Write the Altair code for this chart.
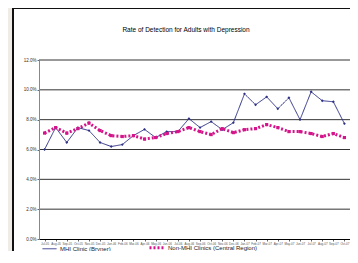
import altair as alt
import pandas as pd

months = ["Jul-05", "Aug-05", "Sep-05", "Oct-05", "Nov-05", "Dec-05",
          "Jan-06", "Feb-06", "Mar-06", "Apr-06", "May-06", "Jun-06",
          "Jul-06", "Aug-06", "Sep-06", "Oct-06", "Nov-06", "Dec-06",
          "Jan-07", "Feb-07", "Mar-07", "Apr-07", "May-07", "Jun-07",
          "Jul-07", "Aug-07", "Sep-07", "Oct-07"]
mhi = [6.0, 7.47, 6.47, 7.47, 7.27, 6.47, 6.2, 6.33, 6.93, 7.35, 6.8, 7.2, 7.2, 8.07,
       7.47, 7.87, 7.33, 7.8, 9.73, 9.0, 9.53, 8.73, 9.47, 8.0, 9.87, 9.27, 9.2, 7.73]
non_mhi = [7.1, 7.47, 7.1, 7.4, 7.77, 7.27, 6.93, 6.87, 6.93, 6.7, 6.8, 7.07, 7.2, 7.47,
           7.2, 7.0, 7.4, 7.13, 7.33, 7.4, 7.67, 7.47, 7.2, 7.2, 7.07, 6.87, 7.07, 6.8]
series_names = ["MHI Clinic (Bryner)", "Non-MHI Clinics (Central Region)"]
series_colors = ["#2e3186", "#d4148a"]
y_ticks = [0.0, 0.02, 0.04, 0.06, 0.08, 0.10, 0.12]
title_text = "Rate of Detection for Adults with Depression"

rows = []
for m, a, b in zip(months, mhi, non_mhi):
    rows.append({"month": m, "series": series_names[0], "rate": a / 100})
    rows.append({"month": m, "series": series_names[1], "rate": b / 100})
df = pd.DataFrame(rows)
grid_df = pd.DataFrame({"rate": y_ticks[1:]})

FONT = "Liberation Sans"

y_axis = alt.Axis(title=None, values=y_ticks, format=".1%", grid=False,
                  labelFontSize=4.5, labelColor="#333", labelFont=FONT,
                  domainColor="#888", ticks=True, tickSize=2, tickColor="#666",
                  labelPadding=1, zindex=2, labelOverlap=False)
y_scale = alt.Scale(domain=[0, 0.12], nice=False)

x_enc = alt.X("month:N", sort=months, scale=alt.Scale(padding=0.5),
              axis=alt.Axis(title=None, labelAngle=0, labelFontSize=3, labelColor="#555",
                            labelFont=FONT, domainColor="#000", domainWidth=1,
                            tickColor="#666", tickSize=2, labelPadding=1, zindex=2,
                            labelOverlap=False))
y_enc = alt.Y("rate:Q", scale=y_scale, axis=y_axis)

frame = alt.Chart(pd.DataFrame({"a": [0]})).mark_rect(
    fill="white", strokeWidth=0
).encode(x=alt.value(-26), x2=alt.value(400), y=alt.value(-52), y2=alt.value(260))
frame_left = alt.Chart(pd.DataFrame({"a": [0]})).mark_rule(color="#111", strokeWidth=2).encode(
    x=alt.value(-26), y=alt.value(-52), y2=alt.value(260))
frame_top = alt.Chart(pd.DataFrame({"a": [0]})).mark_rule(color="#111", strokeWidth=2).encode(
    x=alt.value(-27), x2=alt.value(400), y=alt.value(-52))

title = alt.Chart(pd.DataFrame({"t": [title_text]})).mark_text(
    font=FONT, fontSize=6.5, color="#000", align="center", baseline="middle"
).encode(text="t:N", x=alt.value(147), y=alt.value(-30))

grid = alt.Chart(grid_df).mark_rule(color="#333", strokeWidth=1).encode(
    y=alt.Y("rate:Q", scale=y_scale, axis=y_axis)
)

leg = alt.Legend(title=None, orient="none", legendX=3, legendY=179, direction="horizontal",
                 symbolType="stroke", symbolSize=196, labelFontSize=6, labelFont=FONT,
                 labelColor="#222", columnPadding=32, labelOffset=3, zindex=2)

lines = alt.Chart(df).mark_line().encode(
    x=x_enc, y=y_enc,
    color=alt.Color("series:N", scale=alt.Scale(domain=series_names, range=series_colors), legend=leg),
    strokeDash=alt.StrokeDash("series:N", scale=alt.Scale(domain=series_names, range=[[1, 0], [2, 2]]), legend=leg),
    strokeWidth=alt.StrokeWidth("series:N", scale=alt.Scale(domain=series_names, range=[1, 3]), legend=leg),
)

pts_a = alt.Chart(df).transform_filter(alt.datum.series == series_names[0]).mark_point(
    shape="diamond", filled=True, size=8, color=series_colors[0], opacity=1
).encode(x=x_enc, y=y_enc)
pts_b = alt.Chart(df).transform_filter(alt.datum.series == series_names[1]).mark_point(
    shape="square", filled=True, size=10, color=series_colors[1], opacity=1
).encode(x=x_enc, y=y_enc)

chart = alt.layer(frame, frame_left, frame_top, title, grid, lines, pts_a, pts_b).properties(
    width=311, height=179,
    autosize="none",
    padding={"left": 31, "top": 52, "right": 0, "bottom": 12},
    background="#efebe6",
).configure_view(stroke=None)

chart.save("out.html", embed_options={"renderer": "svg", "actions": False})
